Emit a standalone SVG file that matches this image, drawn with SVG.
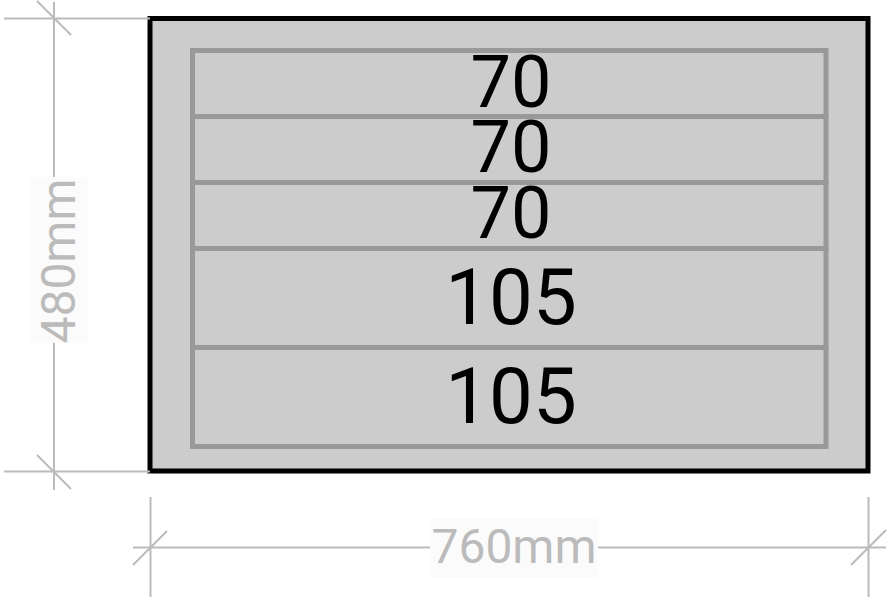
<svg xmlns="http://www.w3.org/2000/svg" width="888" height="597" viewBox="0 0 888 597">
<style>
.dim{stroke:#bbbbbb;stroke-width:2;fill:none}
.row{fill:#cccccc;stroke:#999999;stroke-width:5}
.lbl{font-family:Roboto,"Liberation Sans",sans-serif;fill:#000;text-anchor:middle}
.dimtxt{font-family:Roboto,"Liberation Sans",sans-serif;fill:#bbbbbb;font-size:48px;text-anchor:middle}
</style>
<rect width="888" height="597" fill="#ffffff"/>
<g id="board">
<rect x="150" y="18.5" width="718" height="452.5" fill="#cccccc" stroke="#000000" stroke-width="5"/>
</g>
<g id="row1"><rect class="row" x="192.5" y="50.5" width="633.5" height="66"/><text class="lbl" x="511" y="107" font-size="72">70</text></g>
<g id="row2"><rect class="row" x="192.5" y="116.5" width="633.5" height="66"/><text class="lbl" x="511" y="172" font-size="72">70</text></g>
<g id="row3"><rect class="row" x="192.5" y="182.5" width="633.5" height="66"/><text class="lbl" x="511" y="238" font-size="72">70</text></g>
<g id="row4"><rect class="row" x="192.5" y="248.5" width="633.5" height="99"/><text class="lbl" x="511" y="324" font-size="78">105</text></g>
<g id="row5"><rect class="row" x="192.5" y="347.5" width="633.5" height="99"/><text class="lbl" x="511" y="423" font-size="78">105</text></g>
<g id="connectors">
<line class="dim" x1="4" y1="18.5" x2="150" y2="18.5"/>
<line class="dim" x1="4" y1="471.5" x2="150" y2="471.5"/>
<line class="dim" x1="54" y1="2" x2="54" y2="490"/>
<line class="dim" x1="37" y1="1" x2="71" y2="35"/>
<line class="dim" x1="37" y1="455" x2="71" y2="489"/>
<line class="dim" x1="150.5" y1="497" x2="150.5" y2="597"/>
<line class="dim" x1="868.5" y1="497" x2="868.5" y2="597"/>
<line class="dim" x1="133" y1="547.5" x2="886" y2="547.5"/>
<line class="dim" x1="133" y1="565" x2="167" y2="531"/>
<line class="dim" x1="851" y1="565" x2="886" y2="530"/>
</g>
<g id="dim-width">
<rect x="430" y="518" width="168" height="60" fill="#fbfbfb"/>
<text class="dimtxt" x="514" y="563">760mm</text>
</g>
<g id="dim-height">
<rect x="30" y="177" width="58" height="166" fill="#fbfbfb"/>
<text class="dimtxt" transform="translate(75,261) rotate(-90)">480mm</text>
</g>
</svg>
